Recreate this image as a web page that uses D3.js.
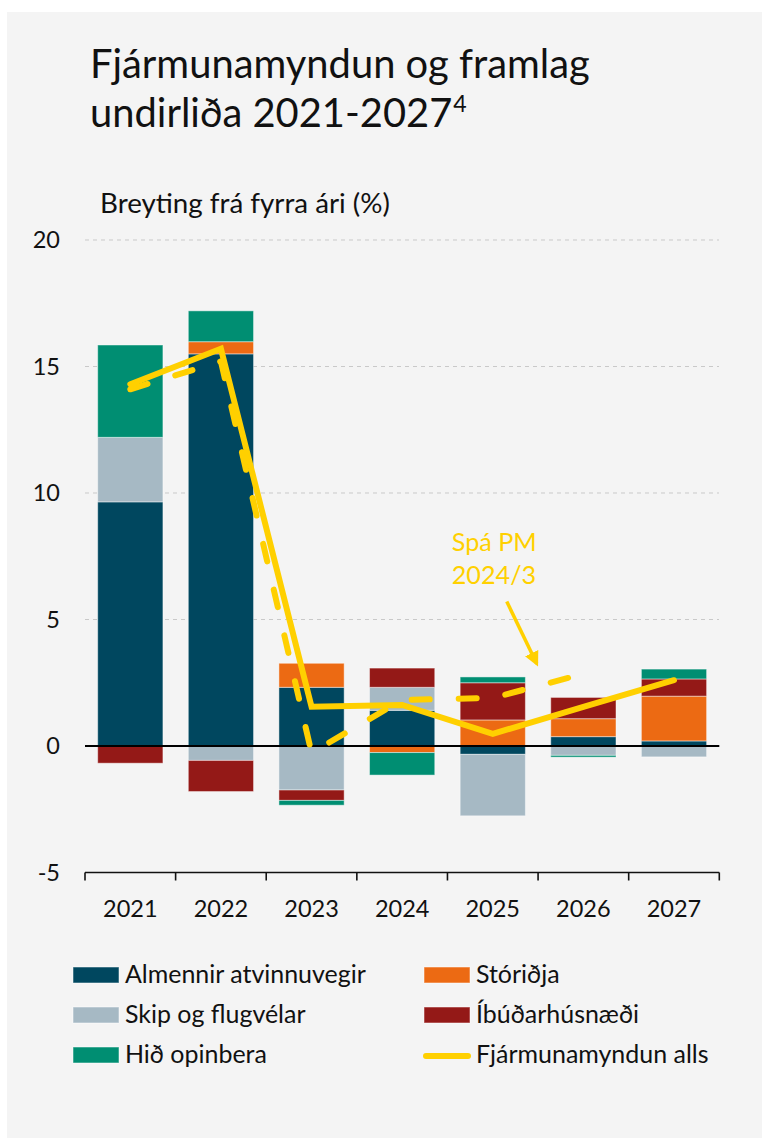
<!DOCTYPE html>
<html>
<head>
<meta charset="utf-8">
<script src="https://cdn.jsdelivr.net/npm/d3@7"></script>
<style>
  html, body { margin: 0; padding: 0; background: #ffffff; }
  svg { display: block; }
  text { font-family: Lato, "Open Sans", sans-serif; fill: #111; }
</style>
</head>
<body>
<svg id="chart" width="762" height="1138"></svg>
<script>
// ---------------- DATA ----------------
const years = ["2021", "2022", "2023", "2024", "2025", "2026", "2027"];
const seriesKeys = ["Almennir atvinnuvegir", "Stóriðja", "Skip og flugvélar", "Íbúðarhúsnæði", "Hið opinbera"];
const almennir   = [9.65, 15.5, 2.32, 1.41, -0.33, 0.37, 0.20];
const storidja   = [0.00, 0.48, 0.95, -0.26, 1.03, 0.71, 1.77];
const skip       = [2.55, -0.57, -1.74, 0.91, -2.43, -0.37, -0.43];
const ibudar     = [-0.68, -1.23, -0.41, 0.76, 1.47, 0.84, 0.68];
const opinbera   = [3.65, 1.22, -0.19, -0.89, 0.23, -0.07, 0.39];
const totalAlls  = [14.3, 15.7, 1.55, 1.62, 0.48, 1.55, 2.6];
const spaYears   = ["2021", "2022", "2023", "2024", "2025", "2026"];
const spaPM      = [14.1, 15.2, -0.27, 1.82, 1.9, 2.85];
const yTicks     = [-5, 0, 5, 10, 15, 20];
const gridTicks  = [5, 10, 15, 20];
const titleLines = ["Fjármunamyndun og framlag", "undirliða 2021-2027"];
const titleSup   = "4";
const yLabel     = "Breyting frá fyrra ári (%)";
const lineLabel  = "Fjármunamyndun alls";
const noteLines  = ["Spá PM", "2024/3"];

// ---------------- STYLE ----------------
const colors = {
  "Almennir atvinnuvegir": "#00475f",
  "Stóriðja": "#ec6a13",
  "Skip og flugvélar": "#a6b9c4",
  "Íbúðarhúsnæði": "#941917",
  "Hið opinbera": "#008e72"
};
const yellow = "#ffd000";

const svg = d3.select("#chart");
svg.append("rect").attr("x", 7).attr("y", 12).attr("width", 755).attr("height", 1126).attr("fill", "#f4f4f4");

const x = d3.scaleBand().domain(years).range([85, 719.3]).paddingInner(0.28).paddingOuter(0.14);
const y = d3.scaleLinear().domain([-5, 20]).range([872.5, 240]);
const xc = d => x(d) + x.bandwidth() / 2;

function fit(sel, w) {
  const cur = sel.node().getComputedTextLength();
  const fs = parseFloat(sel.attr("font-size"));
  const nf = fs * w / cur;
  sel.attr("font-size", nf);
  return nf;
}

// Title
const t1 = svg.append("text").attr("x", 90).attr("y", 78).attr("font-size", 36).text(titleLines[0]);
const tfs = fit(t1, 500);
const t2 = svg.append("text").attr("x", 90).attr("y", 127).attr("font-size", tfs).text(titleLines[1]);
const t2w = t2.node().getComputedTextLength();
svg.append("text").attr("x", 90 + t2w + 1).attr("y", 112).attr("font-size", tfs * 0.58).text(titleSup);

// Y label
const yl = svg.append("text").attr("x", 100).attr("y", 213).attr("font-size", 22).text(yLabel);
fit(yl, 290);

// Grid
svg.append("g").selectAll("line").data(gridTicks).join("line")
  .attr("x1", 85).attr("x2", 719).attr("y1", d => y(d)).attr("y2", d => y(d))
  .attr("stroke", "#c9c9c9").attr("stroke-width", 1).attr("stroke-dasharray", "4,4");

// Y axis labels
const yAxis = svg.append("g").attr("transform", "translate(85,0)")
  .call(d3.axisLeft(y).tickValues(yTicks).tickSize(0).tickPadding(25).tickFormat(d => String(d)));
yAxis.select(".domain").remove();
yAxis.selectAll("text").attr("font-size", 23.5).attr("font-family", "Lato, sans-serif").attr("fill", "#111");

// Bars (diverging stack)
const rows = years.map((yr, i) => ({
  year: yr,
  "Almennir atvinnuvegir": almennir[i],
  "Stóriðja": storidja[i],
  "Skip og flugvélar": skip[i],
  "Íbúðarhúsnæði": ibudar[i],
  "Hið opinbera": opinbera[i]
}));
const stacked = d3.stack().keys(seriesKeys).offset(d3.stackOffsetDiverging)(rows);
svg.append("g").selectAll("g").data(stacked).join("g")
  .attr("fill", d => colors[d.key])
  .selectAll("rect").data(d => d.filter(p => Math.abs(p[1] - p[0]) > 1e-9)).join("rect")
  .attr("x", d => x(d.data.year))
  .attr("width", x.bandwidth())
  .attr("y", d => y(Math.max(d[0], d[1])))
  .attr("height", d => Math.abs(y(d[0]) - y(d[1])))
  .attr("stroke", "rgba(255,255,255,0.45)").attr("stroke-width", 1);

// Zero line
svg.append("line").attr("x1", 85).attr("x2", 719.3).attr("y1", y(0)).attr("y2", y(0))
  .attr("stroke", "#000").attr("stroke-width", 2);

// Bottom axis
const axisY = y(-5);
svg.append("line").attr("x1", 85).attr("x2", 719.3).attr("y1", axisY).attr("y2", axisY)
  .attr("stroke", "#111").attr("stroke-width", 1.6);
const bounds = years.map(d => x(d) - x.step() * x.paddingInner() / 2).concat([x(years[years.length - 1]) + x.bandwidth() + x.step() * x.paddingInner() / 2]);
svg.append("g").selectAll("line").data(bounds).join("line")
  .attr("x1", d => d).attr("x2", d => d).attr("y1", axisY).attr("y2", axisY + 8)
  .attr("stroke", "#111").attr("stroke-width", 1.6);
svg.append("g").selectAll("text").data(years).join("text")
  .attr("x", d => xc(d)).attr("y", 917).attr("text-anchor", "middle").attr("font-size", 23.5).text(d => d);

// Lines
const lineGen = d3.line().x(d => xc(d[0])).y(d => y(d[1]));
svg.append("path").datum(spaYears.map((d, i) => [d, spaPM[i]]))
  .attr("d", lineGen).attr("fill", "none").attr("stroke", yellow).attr("stroke-width", 6)
  .attr("stroke-linecap", "round").attr("stroke-linejoin", "round").attr("stroke-dasharray", "18,29");
svg.append("path").datum(years.map((d, i) => [d, totalAlls[i]]))
  .attr("d", lineGen).attr("fill", "none").attr("stroke", yellow).attr("stroke-width", 6)
  .attr("stroke-linecap", "round").attr("stroke-linejoin", "miter");

// Annotation
const nx = xc("2025") - 41;
const n1 = svg.append("text").attr("x", nx).attr("y", y(7.69)).attr("font-size", 23).style("fill", yellow).text(noteLines[0]);
const nfs = fit(n1, 85);
svg.append("text").attr("x", nx).attr("y", y(6.39)).attr("font-size", nfs).style("fill", yellow).text(noteLines[1]);
const defs = svg.append("defs");
defs.append("marker").attr("id", "arr").attr("viewBox", "0 0 10 10").attr("refX", 8).attr("refY", 5)
  .attr("markerWidth", 4.2).attr("markerHeight", 4.2).attr("orient", "auto")
  .append("path").attr("d", "M0,0 L10,5 L0,10 Z").attr("fill", yellow);
svg.append("line").attr("x1", xc("2025") + 14).attr("y1", y(5.71)).attr("x2", xc("2025") + 44).attr("y2", y(3.25))
  .attr("stroke", yellow).attr("stroke-width", 3.5).attr("marker-end", "url(#arr)");

// Legend
const legendItems = [
  { label: seriesKeys[0], type: "rect", col: 0, row: 0 },
  { label: seriesKeys[1], type: "rect", col: 1, row: 0 },
  { label: seriesKeys[2], type: "rect", col: 0, row: 1 },
  { label: seriesKeys[3], type: "rect", col: 1, row: 1 },
  { label: seriesKeys[4], type: "rect", col: 0, row: 2 },
  { label: lineLabel, type: "line", col: 1, row: 2 }
];
const colX = [73, 424];
const rowY = [975, 1015, 1055];
const lg = svg.append("g");
const probe1 = lg.append("text").attr("font-size", 22).text(seriesKeys[0]);
const probe2 = lg.append("text").attr("font-size", 22).text(lineLabel);
const lfs = 0.5 * (22 * 226 / probe1.node().getComputedTextLength() + 22 * 247 / probe2.node().getComputedTextLength());
probe1.remove(); probe2.remove();
legendItems.forEach(it => {
  const gx = colX[it.col], gy = rowY[it.row];
  if (it.type === "rect") {
    lg.append("rect").attr("x", gx).attr("y", gy - 8).attr("width", 46).attr("height", 16)
      .attr("fill", colors[it.label]).attr("stroke", "rgba(255,255,255,0.5)").attr("stroke-width", 1);
  } else {
    lg.append("line").attr("x1", gx + 2).attr("x2", gx + 44).attr("y1", gy + 1).attr("y2", gy + 1)
      .attr("stroke", yellow).attr("stroke-width", 6).attr("stroke-linecap", "round");
  }
  lg.append("text").attr("x", gx + 52).attr("y", gy + 8).attr("font-size", lfs).text(it.label);
});
</script>
</body>
</html>
